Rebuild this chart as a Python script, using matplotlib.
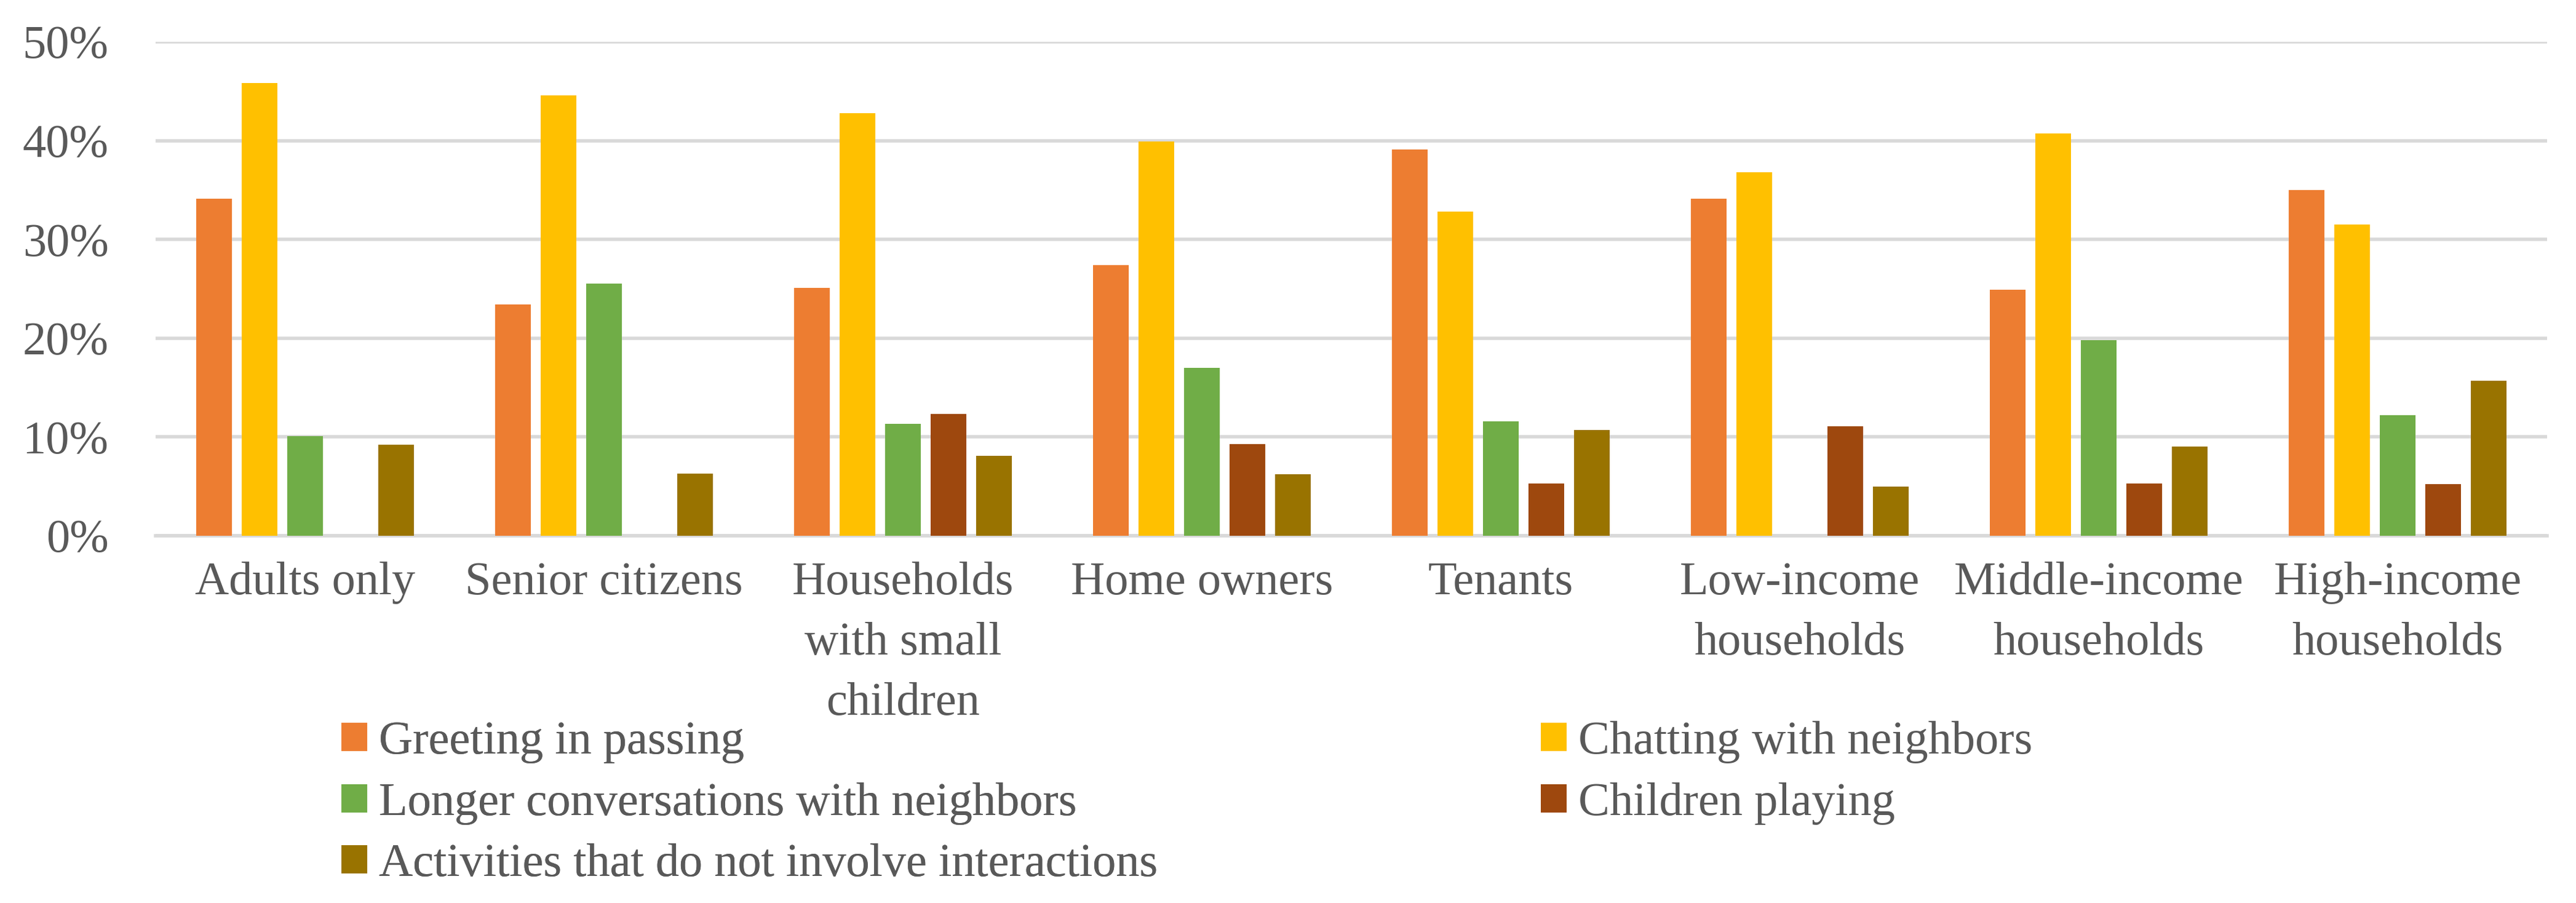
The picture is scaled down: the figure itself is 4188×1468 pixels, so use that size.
import numpy as np
import matplotlib
matplotlib.use('Agg')
import matplotlib.pyplot as plt
from matplotlib.patches import Patch

# Data (percent)
categories = ['Adults only', 'Senior citizens', 'Households\nwith small\nchildren',
              'Home owners', 'Tenants', 'Low-income\nhouseholds',
              'Middle-income\nhouseholds', 'High-income\nhouseholds']
series_names = ['Greeting in passing', 'Chatting with neighbors',
                'Longer conversations with neighbors', 'Children playing',
                'Activities that do not involve interactions']
greeting = [34.1, 23.4, 25.1, 27.4, 39.1, 34.1, 24.9, 35.0]
chatting = [45.8, 44.6, 42.8, 39.9, 32.8, 36.8, 40.7, 31.5]
longer = [10.1, 25.5, 11.3, 17.0, 11.6, 0, 19.8, 12.2]
children = [0, 0, 12.3, 9.25, 5.3, 11.1, 5.3, 5.2]
activities = [9.2, 6.3, 8.1, 6.25, 10.7, 4.96, 9.0, 15.7]
yticks = [0, 10, 20, 30, 40, 50]

colors = ['#ED7D31', '#FFC000', '#70AD47', '#9E480E', '#997300']
text_color = '#595959'

serif = ['Liberation Serif', 'DejaVu Serif']
plt.rcParams['font.family'] = serif
fs = 55

fig = plt.figure(figsize=(41.88, 14.68), dpi=100)
ax = fig.add_axes([0.0604, 0.4067, 0.9284, 0.547])

x = np.arange(len(categories))
step = 0.152
width = 0.119
all_series = [greeting, chatting, longer, children, activities]
handles = []
for i, vals in enumerate(all_series):
    ax.bar(x + (i - 2) * step, vals, width, color=colors[i], zorder=3)
    handles.append(Patch(facecolor=colors[i], label=series_names[i]))

ax.set_xlim(-0.5, len(categories) - 0.5)
ax.set_ylim(0, 50)
ax.set_yticks(yticks)
ax.set_yticklabels([f'{v}%' for v in yticks], family=serif)
ax.yaxis.grid(True, color='#D9D9D9', linewidth=4, zorder=0)
ax.set_axisbelow(True)
for s in ['top', 'right', 'left']:
    ax.spines[s].set_visible(False)
ax.spines['bottom'].set_color('#D9D9D9')
ax.spines['bottom'].set_linewidth(4)

ax.set_xticks(x)
ax.set_xticklabels(categories, linespacing=1.55, family=serif)
ax.tick_params(axis='both', length=0, labelsize=fs, labelcolor=text_color)
ax.tick_params(axis='y', pad=55)
ax.tick_params(axis='x', pad=30)

leg_kw = dict(frameon=False, prop={'family': serif, 'size': fs}, labelcolor=text_color,
              handlelength=0.55, handleheight=0.55, handletextpad=0.25,
              labelspacing=0.4, borderaxespad=0, borderpad=0)
leg1 = fig.legend(handles=[handles[0], handles[2], handles[4]],
                  loc='upper left', bbox_to_anchor=(555 / 4188, 1 - 1172 / 1468), **leg_kw)
fig.add_artist(leg1)
fig.legend(handles=[handles[1], handles[3]],
           loc='upper left', bbox_to_anchor=(2505 / 4188, 1 - 1172 / 1468), **leg_kw)

fig.savefig('out.png', dpi=100, facecolor='white')
